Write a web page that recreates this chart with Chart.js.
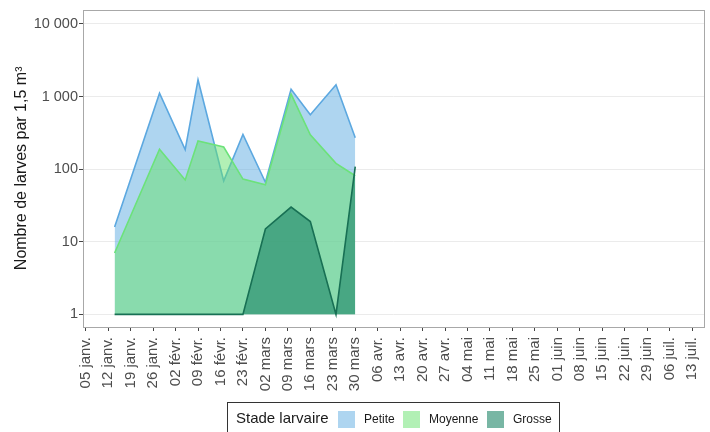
<!DOCTYPE html>
<html>
<head>
<meta charset="utf-8">
<script src="https://cdn.jsdelivr.net/npm/chart.js@4.4.1/dist/chart.umd.min.js"></script>
<style>
  html, body { margin: 0; padding: 0; background: #fff; }
</style>
</head>
<body>
<canvas id="myChart" width="710" height="432"></canvas>
<script>
// sampling dates, in days after 05 janv.
const sampleDays = [9, 23, 31, 35, 43, 49, 56, 64, 70, 78, 84];
const petite = [16, 1110, 186, 1700, 69, 300, 66, 1260, 560, 1450, 270];
const moyenne = [7, 188, 71, 244, 202, 73, 61, 1080, 297, 120, 81];
const grosse = [1, 1, 1, 1, 1, 1, 15, 30, 19, 1, 108];

const weekLabels = ['05 janv.', '12 janv.', '19 janv.', '26 janv.', '02 févr.', '09 févr.', '16 févr.',
  '23 févr.', '02 mars', '09 mars', '16 mars', '23 mars', '30 mars', '06 avr.', '13 avr.', '20 avr.',
  '27 avr.', '04 mai', '11 mai', '18 mai', '25 mai', '01 juin', '08 juin', '15 juin', '22 juin',
  '29 juin', '06 juil.', '13 juil.'];
const yTickValues = [1, 10, 100, 1000, 10000];
const yTickLabels = ['1', '10', '100', '1 000', '10 000'];

const FONT = 'Liberation Sans, Arial, sans-serif';

const toPoints = vals => sampleDays.map((d, i) => ({ x: d, y: vals[i] }));

const series = [
  { label: 'Petite', data: petite, line: 'rgb(92,168,224)', fill: 'rgba(93,171,225,0.5)', order: 3 },
  { label: 'Moyenne', data: moyenne, line: 'rgb(108,226,122)', fill: 'rgba(101,225,107,0.5)', order: 2 },
  { label: 'Grosse', data: grosse, line: 'rgb(24,112,84)', fill: 'rgba(30,134,104,0.6)', order: 1 },
];

// panel border + boxed legend at the bottom
const framePlugin = {
  id: 'frame',
  afterDraw(chart) {
    const { ctx, chartArea: a } = chart;
    ctx.save();
    ctx.strokeStyle = '#a8a8a8';
    ctx.lineWidth = 1;
    ctx.strokeRect(Math.round(a.left) + 0.5, Math.round(a.top) + 0.5,
      Math.round(a.right - a.left), Math.round(a.bottom - a.top));

    // legend
    ctx.strokeStyle = '#333';
    ctx.strokeRect(227.5, 402.5, 332, 40);
    ctx.fillStyle = '#1a1a1a';
    ctx.textBaseline = 'middle';
    ctx.font = '15px ' + FONT;
    ctx.fillText('Stade larvaire', 236, 419);
    ctx.font = '12px ' + FONT;
    const swatchX = [338, 403, 487];
    series.forEach((s, i) => {
      ctx.fillStyle = s.fill;
      ctx.fillRect(swatchX[i], 411, 17, 17);
      ctx.fillStyle = '#1a1a1a';
      ctx.fillText(s.label, swatchX[i] + 26, 419.5);
    });
    ctx.restore();
  }
};

new Chart(document.getElementById('myChart').getContext('2d'), {
  type: 'line',
  data: {
    datasets: series.map(s => ({
      label: s.label,
      data: toPoints(s.data),
      borderColor: s.line,
      backgroundColor: s.fill,
      borderWidth: 1.6,
      fill: { value: 1 },
      pointRadius: 0,
      tension: 0,
      order: s.order,
    })),
  },
  options: {
    responsive: false,
    animation: false,
    layout: { padding: { top: 7, right: 6, left: 0, bottom: 0 } },
    plugins: {
      legend: { display: false },
      tooltip: { enabled: false },
    },
    scales: {
      x: {
        type: 'linear',
        min: -0.85,
        max: 192.7,
        afterBuildTicks: scale => {
          scale.ticks = weekLabels.map((_, i) => ({ value: i * 7 }));
        },
        afterFit: scale => {
          scale.height = 105;
          scale.paddingLeft = 0;
          scale.paddingRight = 0;
        },
        ticks: {
          autoSkip: false,
          minRotation: 90,
          maxRotation: 90,
          padding: 6,
          color: '#4d4d4d',
          font: { family: FONT, size: 15 },
          callback: v => weekLabels[Math.round(v / 7)],
        },
        grid: { drawOnChartArea: false, tickLength: 4, tickColor: '#444', color: '#444' },
        border: { display: false },
      },
      y: {
        type: 'logarithmic',
        min: 0.67,
        max: 15700,
        afterBuildTicks: scale => {
          scale.ticks = yTickValues.map(v => ({ value: v }));
        },
        afterFit: scale => { scale.width = 83; },
        ticks: {
          padding: 1,
          color: '#4d4d4d',
          font: { family: FONT, size: 14.5 },
          callback: v => yTickLabels[yTickValues.indexOf(v)],
        },
        grid: { color: '#ebebeb', lineWidth: 1, tickLength: 4, tickColor: '#444' },
        border: { display: false },
        title: {
          display: true,
          text: 'Nombre de larves par 1,5 m³',
          color: '#1a1a1a',
          font: { family: FONT, size: 16 },
          padding: { top: 12, bottom: 0 },
        },
      },
    },
  },
  plugins: [framePlugin],
});
</script>
</body>
</html>
